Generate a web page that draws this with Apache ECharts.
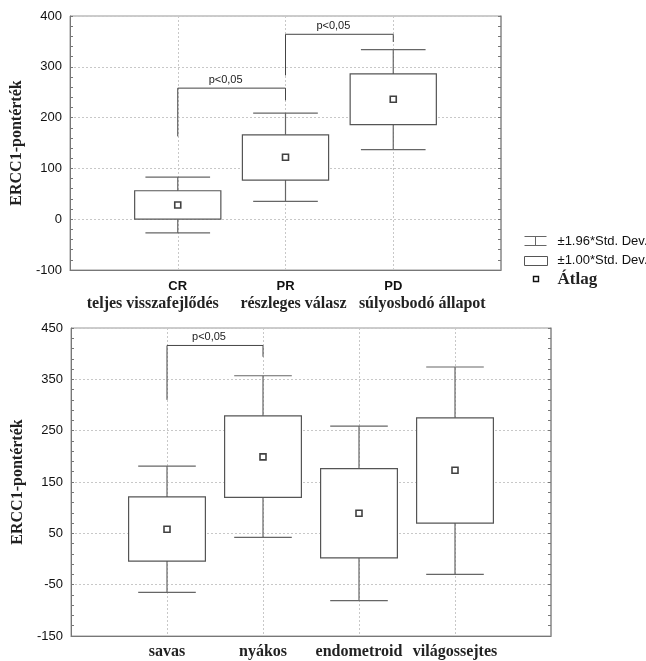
<!DOCTYPE html>
<html>
<head>
<meta charset="utf-8">
<script src="https://cdn.jsdelivr.net/npm/echarts@6/dist/echarts.min.js"></script>
<style>
  html, body { margin: 0; padding: 0; background: #fff; }
  #chart { width: 646px; height: 661px; }
</style>
</head>
<body>
<div id="chart"></div>
<script>
// top panel: response groups
const topCodes = ["CR", "PR", "PD"];
const topNames = ["teljes visszafejlődés", "részleges válasz", "súlyosbodó állapot"];
const topMean = [28, 122, 236];
const topBoxLow = [0, 77, 186];
const topBoxHigh = [56, 166, 286];
const topWhiskLow = [-27, 35, 137];
const topWhiskHigh = [83, 209, 334];
// [from, to, left end, right end, bracket height]
const topBrackets = [[1, 2, 163, 234, 258], [2, 3, 283, 349, 364]];

// bottom panel: histological types
const botNames = ["savas", "nyákos", "endometroid", "világossejtes"];
const botMean = [58, 199, 89, 173];
const botBoxLow = [-4, 120, 2, 70];
const botBoxHigh = [121, 279, 176, 275];
const botWhiskLow = [-65, 42, -81, -30];
const botWhiskHigh = [181, 357, 259, 374];
const botBrackets = [[1, 2, 310, 394, 416]];

const pLabel = "p<0,05";
const yName = "ERCC1-pontérték";
const legendNames = ["±1.96*Std. Dev.", "±1.00*Std. Dev.", "Átlag"];

// the long Hungarian names sit a bit off the tick positions in the original
const topNameShift = [-25, 8, 29];

const sans = "Liberation Sans";
const serif = "Liberation Serif";
const gridLine = { show: true, lineStyle: { color: "#c8c8c8", type: [2, 2], width: 1 } };

const chart = echarts.init(document.getElementById("chart"));

function whiskerItem(params, api) {
  const x = api.value(0);
  const lo = api.coord([x, api.value(1)]);
  const hi = api.coord([x, api.value(2)]);
  const half = api.size([0.3, 0])[0];
  const style = { stroke: "#666", lineWidth: 1.2 };
  return {
    type: "group",
    children: [
      { type: "line", shape: { x1: lo[0], y1: lo[1], x2: hi[0], y2: hi[1] }, style },
      { type: "line", shape: { x1: lo[0] - half, y1: lo[1], x2: lo[0] + half, y2: lo[1] }, style },
      { type: "line", shape: { x1: hi[0] - half, y1: hi[1], x2: hi[0] + half, y2: hi[1] }, style },
    ],
  };
}

function boxItem(params, api) {
  const x = api.value(0);
  const lo = api.coord([x, api.value(1)]);
  const hi = api.coord([x, api.value(2)]);
  const half = api.size([0.4, 0])[0];
  return {
    type: "rect",
    shape: { x: lo[0] - half, y: hi[1], width: half * 2, height: lo[1] - hi[1] },
    style: { fill: "#fff", stroke: "#555", lineWidth: 1.2 },
  };
}

function bracketItem(params, api) {
  const a = api.value(0), b = api.value(1);
  const p1 = api.coord([a, api.value(2)]);
  const p2 = api.coord([a, api.value(4)]);
  const p3 = api.coord([b, api.value(4)]);
  const p4 = api.coord([b, api.value(3)]);
  return {
    type: "group",
    children: [
      { type: "polyline", shape: { points: [p1, p2, p3, p4] }, style: { stroke: "#444", lineWidth: 1, fill: null } },
      {
        type: "text",
        x: (p2[0] + p3[0]) / 2 - 6,
        y: p2[1] - 3,
        style: { text: pLabel, fontFamily: sans, fontSize: 11, fill: "#222", align: "center", verticalAlign: "bottom" },
      },
    ],
  };
}

function xAxisFor(gridIndex, max, formatter, rich, margin) {
  return {
    type: "value", gridIndex, min: 0, max, interval: 1,
    axisLine: { show: true, onZero: false, lineStyle: { color: "#777" } },
    axisTick: { show: false },
    splitLine: gridLine,
    axisLabel: { formatter, rich, margin, color: "#111" },
  };
}

function yAxesFor(gridIndex, min, max) {
  const base = {
    type: "value", gridIndex, min, max, interval: 100,
    minorTick: { show: true, splitNumber: 5, length: 3, lineStyle: { color: "#777" } },
    axisTick: { show: true, inside: true, length: 3, lineStyle: { color: "#777" } },
  };
  return [
    Object.assign({}, base, {
      position: "left",
      axisLine: { show: true, onZero: false, lineStyle: { color: "#777" } },
      splitLine: gridLine,
      axisLabel: { fontFamily: sans, fontSize: 13, color: "#111", margin: 8 },
      name: yName, nameLocation: "middle", nameGap: 38,
      nameTextStyle: { fontFamily: serif, fontWeight: "bold", fontSize: 16, color: "#222" },
    }),
    Object.assign({}, base, {
      position: "right",
      axisLine: { show: true, onZero: false, lineStyle: { color: "#999", width: 1.5 } },
      splitLine: { show: false },
      axisLabel: { show: false },
    }),
  ];
}

function seriesFor(axisX, axisY, mean, bLow, bHigh, wLow, wHigh, brackets) {
  const idx = mean.map((_, i) => i + 1);
  return [
    {
      name: legendNames[0], type: "custom", xAxisIndex: axisX, yAxisIndex: axisY,
      renderItem: whiskerItem, data: idx.map((x, i) => [x, wLow[i], wHigh[i]]),
      encode: { x: 0, y: [1, 2] }, z: 2,
    },
    {
      name: legendNames[1], type: "custom", xAxisIndex: axisX, yAxisIndex: axisY,
      renderItem: boxItem, data: idx.map((x, i) => [x, bLow[i], bHigh[i]]),
      encode: { x: 0, y: [1, 2] }, z: 3,
    },
    {
      name: legendNames[2], type: "scatter", xAxisIndex: axisX, yAxisIndex: axisY,
      data: idx.map((x, i) => [x, mean[i]]), symbol: "rect", symbolSize: 6,
      itemStyle: { color: "#fff", borderColor: "#111", borderWidth: 1.6 }, z: 4,
    },
    {
      type: "custom", xAxisIndex: axisX, yAxisIndex: axisY,
      renderItem: bracketItem, data: brackets,
      encode: { x: [0, 1], y: [2, 3, 4] }, z: 5, silent: true,
    },
  ];
}

const nameStyle = { fontFamily: serif, fontWeight: "bold", fontSize: 16, lineHeight: 20, color: "#222" };
const richTop = {
  a: { fontFamily: sans, fontWeight: "bold", fontSize: 13, lineHeight: 16, color: "#111" },
};
topNameShift.forEach((s, i) => {
  richTop["b" + i] = Object.assign({}, nameStyle, {
    padding: s < 0 ? [0, -2 * s, 0, 0] : [0, 0, 0, 2 * s],
  });
});
const richBot = {
  b: { fontFamily: serif, fontWeight: "bold", fontSize: 16, lineHeight: 18, color: "#222" },
};
const topLabel = (v) => topCodes[v - 1] ? "{a|" + topCodes[v - 1] + "}\n{b" + (v - 1) + "|" + topNames[v - 1] + "}" : "";
const botLabel = (v) => botNames[v - 1] ? "{b|" + botNames[v - 1] + "}" : "";

const legendText = { fontFamily: sans, fontSize: 13, fill: "#111", verticalAlign: "middle" };

const option = {
  backgroundColor: "#fff",
  animation: false,
  grid: [
    { left: 70, top: 16, right: 145, bottom: 391, show: true, borderColor: "#999", borderWidth: 1 },
    { left: 71, top: 328, right: 95, bottom: 25, show: true, borderColor: "#999", borderWidth: 1 },
  ],
  xAxis: [
    xAxisFor(0, topCodes.length + 1, topLabel, richTop, 8),
    xAxisFor(1, botNames.length + 1, botLabel, richBot, 7),
  ],
  yAxis: [].concat(yAxesFor(0, -100, 400), yAxesFor(1, -150, 450)),
  series: [].concat(
    seriesFor(0, 0, topMean, topBoxLow, topBoxHigh, topWhiskLow, topWhiskHigh, topBrackets),
    seriesFor(1, 2, botMean, botBoxLow, botBoxHigh, botWhiskLow, botWhiskHigh, botBrackets)
  ),
  graphic: [
    {
      type: "group", left: 522, top: 234,
      children: [
        { type: "line", shape: { x1: 0, y1: 0, x2: 22, y2: 0 }, style: { stroke: "#666", lineWidth: 1 } },
        { type: "line", shape: { x1: 11, y1: 0, x2: 11, y2: 9 }, style: { stroke: "#666", lineWidth: 1 } },
        { type: "line", shape: { x1: 0, y1: 9, x2: 22, y2: 9 }, style: { stroke: "#666", lineWidth: 1 } },
        { type: "rect", shape: { x: 0, y: 20, width: 23, height: 9 }, style: { fill: "#fff", stroke: "#555", lineWidth: 1 } },
        { type: "rect", shape: { x: 9, y: 40, width: 5, height: 5 }, style: { fill: "#fff", stroke: "#111", lineWidth: 1.4 } },
        { type: "text", x: 33, y: 5, style: Object.assign({ text: legendNames[0] }, legendText) },
        { type: "text", x: 33, y: 24, style: Object.assign({ text: legendNames[1] }, legendText) },
        {
          type: "text", x: 33, y: 43,
          style: { text: legendNames[2], fontFamily: serif, fontWeight: "bold", fontSize: 17, fill: "#222", verticalAlign: "middle" },
        },
      ],
    },
  ],
};

chart.setOption(option);
</script>
</body>
</html>
